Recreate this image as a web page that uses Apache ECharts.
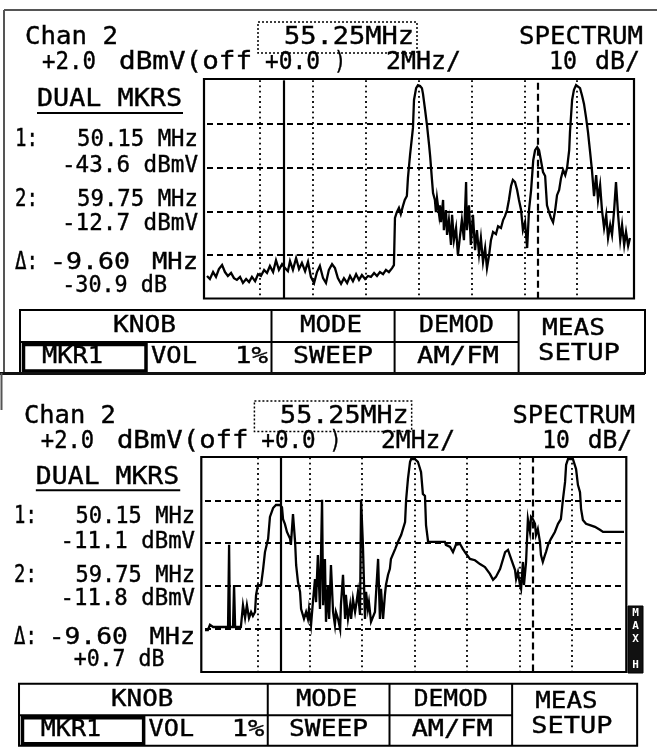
<!DOCTYPE html>
<html><head><meta charset="utf-8">
<script src="https://cdn.jsdelivr.net/npm/echarts@6/dist/echarts.min.js"></script>
<style>html,body{margin:0;padding:0;background:#fff}#c{width:657px;height:747px}</style>
</head><body><div id="c"></div>
<script>
// ---- instrument settings ----
const CENTER_MHZ = 55.25, SPAN_MHZ = 16, MHZ_PER_DIV = 2;
const REF_DBMV = 2.0, DB_PER_DIV = 10, DIVS_Y = 5;
const MARKER_MHZ = [50.15, 59.75];

// ---- top screen trace ----
const TOP_FREQ = [47.25,47.36,47.48,47.59,47.70,47.82,47.93,48.04,48.16,48.27,48.38,48.50,48.61,48.73,48.84,48.95,49.07,49.18,49.29,49.41,49.52,49.63,49.75,49.86,49.97,50.09,50.20,50.31,50.39,50.50,50.62,50.73,50.84,50.96,51.07,51.18,51.30,51.41,51.52,51.64,51.75,51.86,51.98,52.09,52.20,52.32,52.43,52.55,52.66,52.77,52.89,53.00,53.11,53.23,53.34,53.45,53.57,53.68,53.79,53.91,54.02,54.13,54.25,54.32,
54.36,54.43,54.51,54.58,54.66,54.73,54.81,54.85,54.93,55.00,55.04,55.08,55.16,55.23,55.31,55.38,55.42,55.50,55.57,55.65,55.69,55.76,55.80,55.87,55.91,55.95,56.03,56.06,56.10,56.18,56.21,56.29,56.33,56.40,56.48,56.52,56.59,56.67,56.74,56.82,56.89,56.97,57.05,57.08,57.16,57.23,57.31,57.39,57.46,57.54,57.61,57.69,57.77,57.84,57.92,57.99,58.07,58.18,58.26,58.37,58.45,58.52,58.60,58.67,58.75,58.82,58.90,58.98,59.05,59.13,59.20,59.28,59.36,59.43,59.51,59.59,59.66,59.74,59.81,59.88,59.96,60.04,60.11,60.19,60.26,60.34,60.42,60.49,60.57,60.64,60.72,60.80,60.87,60.95,60.98,61.06,61.13,61.21,61.28,61.36,61.44,61.51,61.59,61.66,61.74,61.81,61.89,61.97,62.04,62.12,62.19,62.27,62.35,62.42,62.50,62.57,62.65,62.72,62.80,62.88,62.95,63.03,63.10,63.18,63.25];
const TOP_DBMV = [-42.8,-43.5,-41.9,-43.0,-41.2,-40.3,-41.9,-42.8,-42.1,-43.3,-43.7,-43.0,-44.4,-43.5,-44.2,-43.0,-44.0,-42.4,-42.8,-41.4,-42.1,-40.5,-41.9,-39.2,-41.4,-40.1,-41.0,-41.7,-39.4,-41.4,-38.7,-41.2,-39.8,-41.7,-39.6,-43.0,-44.4,-41.9,-40.5,-43.3,-44.4,-41.4,-40.1,-41.0,-43.3,-44.6,-43.3,-44.4,-42.8,-44.0,-42.4,-43.7,-42.6,-43.5,-42.8,-43.0,-42.1,-42.8,-41.9,-42.4,-41.4,-41.9,-41.0,-40.3,
-29.5,-28.2,-27.2,-28.6,-26.8,-25.4,-24.5,-20.4,-15.1,-11.2,-8.9,-2.5,0.2,0.9,0.7,0.2,-1.1,-4.8,-8.2,-12.8,-15.3,-20.8,-23.8,-25.4,-28.2,-25.0,-28.8,-26.6,-30.5,-25.4,-32.3,-27.7,-33.4,-30.0,-35.7,-28.8,-34.6,-31.8,-38.0,-33.7,-30.0,-34.6,-21.3,-32.3,-26.6,-35.7,-28.8,-36.9,-32.3,-37.8,-34.1,-39.6,-36.4,-41.0,-38.0,-34.6,-32.7,-33.2,-31.4,-31.8,-30.0,-29.1,-27.7,-25.4,-22.2,-20.8,-21.3,-23.1,-25.4,-27.7,-32.3,-30.5,-36.4,-27.7,-23.1,-16.3,-14.0,-13.3,-14.0,-16.3,-19.0,-19.9,-26.6,-28.2,-29.5,-30.5,-27.7,-24.3,-23.1,-20.4,-18.5,-19.7,-18.1,-14.0,-9.8,-2.5,-0.2,0.9,0.7,0.2,-1.6,-3.4,-6.6,-9.8,-14.4,-18.5,-24.5,-19.7,-25.4,-22.0,-27.7,-31.8,-28.8,-34.1,-31.1,-33.4,-27.7,-21.3,-28.8,-34.6,-31.1,-35.7,-32.7,-35.9,-34.1];

// ---- bottom screen trace ----
const BOT_FREQ = [47.25,47.36,47.44,47.56,48.13,48.17,48.20,48.32,48.36,48.40,48.62,48.70,48.78,48.85,48.93,49.01,49.08,49.16,49.20,49.27,49.39,49.47,49.54,49.58,49.66,49.73,49.85,49.96,50.11,50.19,50.23,50.30,50.38,50.50,50.53,50.61,50.69,50.73,50.80,50.88,50.92,51.03,51.11,51.18,51.22,51.30,51.37,51.45,51.49,51.56,51.64,51.72,51.76,51.83,51.87,51.95,51.99,52.06,52.14,52.21,52.25,52.33,52.41,52.44,52.52,52.60,52.63,52.71,52.79,52.83,52.90,52.98,53.02,53.09,53.17,53.21,53.28,53.36,53.40,53.47,53.51,53.59,53.74,53.86,53.93,53.97,54.05,54.12,54.16,54.24,54.31,54.35,54.51,54.62,54.74,54.89,54.93,55.00,55.08,55.12,55.27,55.38,55.50,55.57,55.65,55.69,55.77,56.41,56.45,56.61,56.72,56.83,56.99,57.10,57.22,57.37,57.56,57.75,57.94,58.13,58.25,58.36,58.52,58.71,58.82,58.94,59.09,59.13,59.20,59.28,59.32,59.39,59.43,59.51,59.58,59.66,59.70,59.77,59.85,59.89,59.96,60.04,60.08,60.15,60.23,60.27,60.35,60.46,60.61,60.73,60.84,60.92,61.00,61.04,61.11,61.30,61.42,61.49,61.57,61.61,61.68,61.80,61.95,62.14,62.33,62.45,63.25];
const BOT_DBMV = [-38.3,-38.3,-37.1,-37.6,-37.6,-18.4,-37.6,-37.6,-27.8,-37.6,-37.6,-32.5,-35.5,-32.5,-35.5,-34.1,-35.0,-34.1,-30.1,-27.8,-27.8,-24.0,-20.1,-20.1,-17.0,-11.9,-9.8,-9.1,-9.1,-9.6,-12.4,-13.5,-15.4,-17.0,-18.4,-11.2,-17.7,-23.1,-27.1,-29.4,-33.4,-35.7,-34.1,-35.7,-33.4,-37.1,-31.8,-26.4,-31.8,-20.8,-33.4,-7.9,-32.5,-21.7,-36.4,-27.8,-35.7,-23.1,-34.1,-37.1,-34.1,-35.7,-38.1,-32.5,-25.4,-35.7,-30.1,-35.7,-32.5,-35.7,-31.1,-34.1,-32.5,-29.4,-34.8,-7.9,-18.4,-35.7,-29.4,-33.4,-31.8,-36.4,-34.1,-21.7,-35.7,-28.7,-35.7,-30.1,-27.8,-25.4,-24.0,-21.7,-19.4,-17.7,-16.1,-13.1,-7.9,-3.0,1.0,1.6,1.6,1.0,-1.4,-6.5,-7.0,-13.8,-17.7,-17.7,-18.4,-18.9,-20.1,-18.4,-18.2,-19.4,-20.5,-21.7,-22.0,-22.9,-23.6,-25.2,-26.6,-25.9,-24.0,-20.1,-19.6,-21.7,-24.3,-26.4,-24.8,-27.8,-28.7,-22.4,-27.8,-22.4,-12.4,-15.4,-11.9,-12.4,-13.5,-16.1,-14.7,-17.7,-20.8,-22.4,-20.8,-20.1,-18.4,-17.0,-15.4,-13.5,-12.4,-7.7,-3.7,0.3,1.6,1.6,-0.7,-4.4,-6.1,-10.0,-12.6,-13.5,-13.8,-14.2,-14.9,-15.4,-15.4];

// ---- screen texts ----
const HEADER = ['Chan 2', '55.25MHz', 'SPECTRUM', '+2.0', 'dBmV(off', '+0.0', ')', '2MHz/', '10', 'dB/'];
const MKR_TITLE = 'DUAL MKRS';
const MKR_LABELS = ['1:', '2:', 'Δ:'];
const TOP_READOUT = ['50.15 MHz', '-43.6 dBmV', '59.75 MHz', '-12.7 dBmV', '-9.60', 'MHz', '-30.9 dB'];
const BOT_READOUT = ['50.15 MHz', '-11.1 dBmV', '59.75 MHz', '-11.8 dBmV', '-9.60', 'MHz', '+0.7 dB'];
const MENU = ['KNOB', 'MODE', 'DEMOD', 'MEAS', 'SETUP', 'MKR1', 'VOL', '1%', 'SWEEP', 'AM/FM'];
const SIDE_TAG = ['M', 'A', 'X', 'H'];

const START = CENTER_MHZ - SPAN_MHZ / 2;
const chart = echarts.init(document.getElementById('c'));
const ctx = document.createElement('canvas').getContext('2d');
const FAM = '"DejaVu Sans Mono", monospace';

function T(str, l, r, cy, size, P, color) {
  const L = P.x(l), R = P.x(r), Y = P.y(cy);
  const font = size + 'px ' + FAM;
  ctx.font = font;
  const w = ctx.measureText(str).width || 1;
  return {type: 'text', x: L, y: Y, scaleX: (R - L) / w, silent: true, z: 10,
    style: {text: str, font: font, fill: color || '#000', stroke: '#000', lineWidth: 0.4,
      align: 'left', verticalAlign: 'middle'}};
}
function Ln(x1, y1, x2, y2, w, P, dash) {
  return {type: 'line', silent: true, z: 10,
    shape: {x1: P.x(x1), y1: P.y(y1), x2: P.x(x2), y2: P.y(y2)},
    style: {stroke: '#000', lineWidth: w, lineDash: dash || null}};
}
function Rc(x1, y1, x2, y2, w, P, dash, fill) {
  return {type: 'rect', silent: true, z: 10,
    shape: {x: P.x(x1), y: P.y(y1), width: P.x(x2) - P.x(x1), height: P.y(y2) - P.y(y1)},
    style: {fill: fill || 'none', stroke: '#000', lineWidth: w, lineDash: dash || null}};
}
const ID = {x: v => v, y: v => v};
const P0 = ID;
const P1 = {x: v => 0.989 * v - 0.76, y: v => 0.982 * v + 379.4};

function panel(P, RD) {
  const H = HEADER, e = [];
  e.push(T(H[0], 25, 118, 38, 24, P));
  e.push(Rc(258, 22, 417, 53, 1.5, P, [2, 2]));
  e.push(T(H[1], 284, 414, 38, 24, P));
  e.push(T(H[2], 519, 643, 38, 24, P));
  e.push(T(H[3], 42, 96, 63, 24, P));
  e.push(T(H[4], 119, 252, 63, 24, P));
  e.push(T(H[5], 265, 320, 63, 24, P));
  e.push(T(H[6], 334, 346, 63, 24, P));
  e.push(T(H[7], 386, 461, 63, 24, P));
  e.push(T(H[8], 549, 577, 63, 24, P));
  e.push(T(H[9], 595, 640, 63, 24, P));
  e.push(T(MKR_TITLE, 37, 182, 100, 24, P));
  e.push(Ln(37, 113, 183, 113, 2, P));
  e.push(T(MKR_LABELS[0], 15, 38, 140, 24, P));
  e.push(T(RD[0], 77, 198, 140, 23, P));
  e.push(T(RD[1], 62, 198, 166, 23, P));
  e.push(T(MKR_LABELS[1], 15, 38, 200, 24, P));
  e.push(T(RD[2], 77, 198, 200, 23, P));
  e.push(T(RD[3], 62, 198, 224, 23, P));
  e.push(T(MKR_LABELS[2], 15, 38, 263, 24, P));
  e.push(T(RD[4], 50, 130, 263, 23, P));
  e.push(T(RD[5], 152, 198, 263, 23, P));
  e.push(T(RD[6], 167 - RD[6].length * 13.1, 167, 286, 23, P));
  // menu
  e.push(Rc(20, 310, 645, 373, 2, P));
  e.push(Ln(20, 342, 518.6, 342, 2, P));
  e.push(Ln(271.5, 310, 271.5, 373, 2, P));
  e.push(Ln(394.6, 310, 394.6, 373, 2, P));
  e.push(Ln(518.6, 310, 518.6, 373, 2, P));
  e.push(Ln(146, 342, 146, 373, 2, P));
  e.push(Rc(23.5, 344.5, 146, 371, 3.5, P));
  const M = MENU;
  e.push(T(M[0], 113, 176, 326, 23, P));
  e.push(T(M[1], 300, 362, 326, 23, P));
  e.push(T(M[2], 419, 494, 326, 23, P));
  e.push(T(M[3], 542, 605, 329, 23, P));
  e.push(T(M[4], 538, 620, 354, 23, P));
  e.push(T(M[5], 42, 103, 357, 23, P));
  e.push(T(M[6], 151, 197, 357, 23, P));
  e.push(T(M[7], 235, 268, 357, 23, P));
  e.push(T(M[8], 293, 373, 357, 23, P));
  e.push(T(M[9], 417, 499, 357, 23, P));
  return e;
}

const G = [
  {left: 207, top: 80.3, width: 423, height: 218.4},
  {left: 205, top: 457.5, width: 419, height: 214}
];
const FRAMES = [[204, 79, 634, 298.5], [201.3, 457, 626.3, 672]];

let elements = [];
elements = elements.concat(panel(P0, TOP_READOUT), panel(P1, BOT_READOUT));
FRAMES.forEach(f => elements.push(Rc(f[0], f[1], f[2], f[3], 2.2, ID)));
// outer border pieces
elements.push({type: 'line', silent: true, z: 10, shape: {x1: 4, y1: 10, x2: 657, y2: 10}, style: {stroke: '#555', lineWidth: 2}});
elements.push({type: 'line', silent: true, z: 10, shape: {x1: 4, y1: 10, x2: 4, y2: 373}, style: {stroke: '#555', lineWidth: 2}});
elements.push({type: 'line', silent: true, z: 10, shape: {x1: 0, y1: 373.5, x2: 645, y2: 373.5}, style: {stroke: '#111', lineWidth: 3}});
elements.push({type: 'line', silent: true, z: 10, shape: {x1: 1.5, y1: 373, x2: 1.5, y2: 410}, style: {stroke: '#555', lineWidth: 2}});
// side tag
elements.push({type: 'rect', silent: true, z: 10, shape: {x: 628, y: 606, width: 15, height: 67}, style: {fill: '#111', stroke: '#000', lineWidth: 1}});
const tagY = [613, 626, 639, 665];
SIDE_TAG.forEach((s, i) => elements.push({type: 'text', silent: true, z: 11, x: 635.5, y: tagY[i],
  style: {text: s, font: 'bold 11px ' + FAM, fill: '#fff', align: 'center', verticalAlign: 'middle'}}));

function axisPair(i) {
  return {
    x: {gridIndex: i, type: 'value', min: 0, max: SPAN_MHZ, interval: MHZ_PER_DIV,
      axisLine: {show: false}, axisTick: {show: false}, axisLabel: {show: false},
      splitLine: {show: true, showMinLine: false, showMaxLine: false,
        lineStyle: {color: '#000', width: 1.8, type: [1.8, 3.4]}}},
    y: {gridIndex: i, type: 'value', min: -DB_PER_DIV * DIVS_Y, max: 0, interval: DB_PER_DIV,
      axisLine: {show: false}, axisTick: {show: false}, axisLabel: {show: false},
      splitLine: {show: true, showMinLine: false, showMaxLine: false,
        lineStyle: {color: '#000', width: 1.8, type: [6, 4]}}}
  };
}
const A0 = axisPair(0), A1 = axisPair(1);
function series(i, freq, dbmv) {
  return {
    type: 'line', xAxisIndex: i, yAxisIndex: i, symbol: 'none', showSymbol: false,
    animation: false, silent: true, clip: true,
    lineStyle: {color: '#000', width: 2.3, join: 'miter'},
    data: freq.map((f, k) => [f - START, dbmv[k] - REF_DBMV]),
    markLine: {
      symbol: ['none', 'none'], silent: true, animation: false, label: {show: false},
      data: [
        {xAxis: MARKER_MHZ[0] - START, lineStyle: {color: '#000', width: 2.2, type: 'solid'}},
        {xAxis: MARKER_MHZ[1] - START, lineStyle: {color: '#000', width: 2.2, type: [7, 4]}}
      ]
    }
  };
}

chart.setOption({
  animation: false,
  backgroundColor: '#fff',
  grid: G.map(g => Object.assign({show: false}, g)),
  xAxis: [A0.x, A1.x],
  yAxis: [A0.y, A1.y],
  series: [series(0, TOP_FREQ, TOP_DBMV), series(1, BOT_FREQ, BOT_DBMV)],
  graphic: {elements: elements}
});
</script>
</body></html>
